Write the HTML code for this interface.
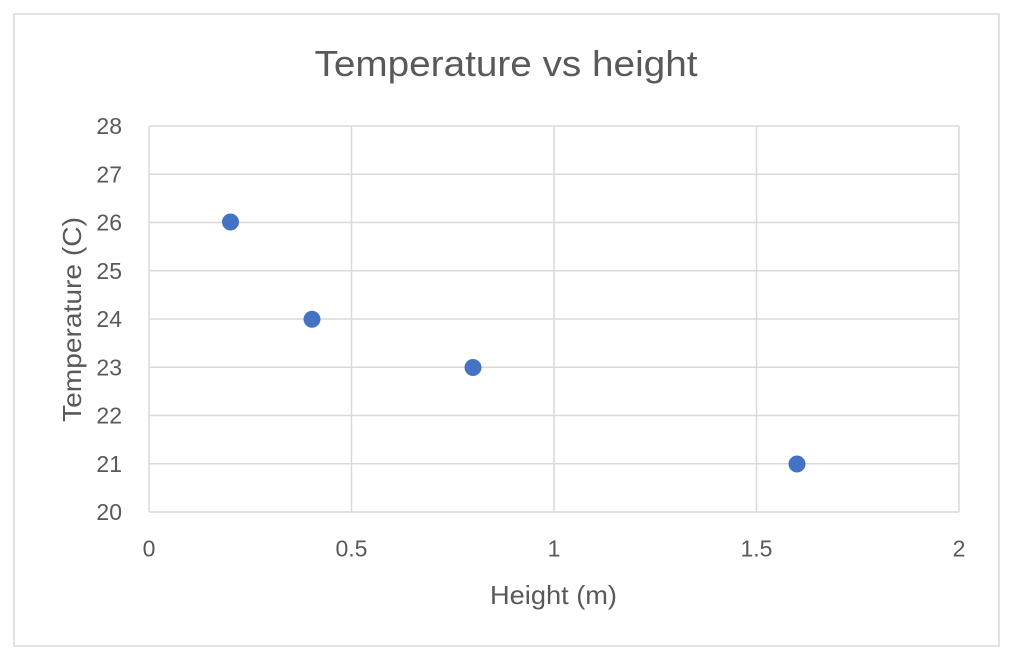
<!DOCTYPE html>
<html>
<head>
<meta charset="utf-8">
<style>
  html,body{margin:0;padding:0;background:#fff;}
  svg{display:block;}
  text{font-family:"Liberation Sans",sans-serif;fill:#595959;}
</style>
</head>
<body>
<svg width="1026" height="652" viewBox="0 0 1026 652" xmlns="http://www.w3.org/2000/svg">
  <rect x="0" y="0" width="1026" height="652" fill="#ffffff"/>
  <rect x="14" y="14" width="985" height="632" fill="#ffffff" stroke="#d9d9d9" stroke-width="1.5"/>

  <!-- title -->
  <text x="506" y="76" font-size="36" text-anchor="middle" textLength="383" lengthAdjust="spacingAndGlyphs">Temperature vs height</text>

  <!-- horizontal gridlines -->
  <g stroke="#d9d9d9" stroke-width="1.5">
    <line x1="149" y1="126" x2="959" y2="126"/>
    <line x1="149" y1="174.25" x2="959" y2="174.25"/>
    <line x1="149" y1="222.5" x2="959" y2="222.5"/>
    <line x1="149" y1="270.75" x2="959" y2="270.75"/>
    <line x1="149" y1="319" x2="959" y2="319"/>
    <line x1="149" y1="367.25" x2="959" y2="367.25"/>
    <line x1="149" y1="415.5" x2="959" y2="415.5"/>
    <line x1="149" y1="463.75" x2="959" y2="463.75"/>
    <line x1="149" y1="512" x2="959" y2="512"/>
    <!-- vertical gridlines -->
    <line x1="149" y1="126" x2="149" y2="512"/>
    <line x1="351.5" y1="126" x2="351.5" y2="512"/>
    <line x1="554" y1="126" x2="554" y2="512"/>
    <line x1="756.5" y1="126" x2="756.5" y2="512"/>
    <line x1="959" y1="126" x2="959" y2="512"/>
  </g>

  <!-- y tick labels -->
  <g font-size="23" text-anchor="end">
    <text x="122" y="134">28</text>
    <text x="122" y="182.25">27</text>
    <text x="122" y="230.5">26</text>
    <text x="122" y="278.75">25</text>
    <text x="122" y="327">24</text>
    <text x="122" y="375.25">23</text>
    <text x="122" y="423.5">22</text>
    <text x="122" y="471.75">21</text>
    <text x="122" y="520">20</text>
  </g>

  <!-- x tick labels -->
  <g font-size="23" text-anchor="middle">
    <text x="149" y="556.5">0</text>
    <text x="351.5" y="556.5">0.5</text>
    <text x="554" y="556.5">1</text>
    <text x="756.5" y="556.5">1.5</text>
    <text x="959" y="556.5">2</text>
  </g>

  <!-- axis titles -->
  <text x="553.5" y="604" font-size="26" text-anchor="middle" textLength="127" lengthAdjust="spacingAndGlyphs">Height (m)</text>
  <text transform="translate(81,319.5) rotate(-90)" x="0" y="0" font-size="26" text-anchor="middle" textLength="205" lengthAdjust="spacingAndGlyphs">Temperature (C)</text>

  <!-- data points -->
  <g fill="#4472c4">
    <circle cx="230.5" cy="222" r="8.5"/>
    <circle cx="312" cy="319.3" r="8.5"/>
    <circle cx="473" cy="367.5" r="8.5"/>
    <circle cx="797" cy="464" r="8.5"/>
  </g>
</svg>
</body>
</html>
